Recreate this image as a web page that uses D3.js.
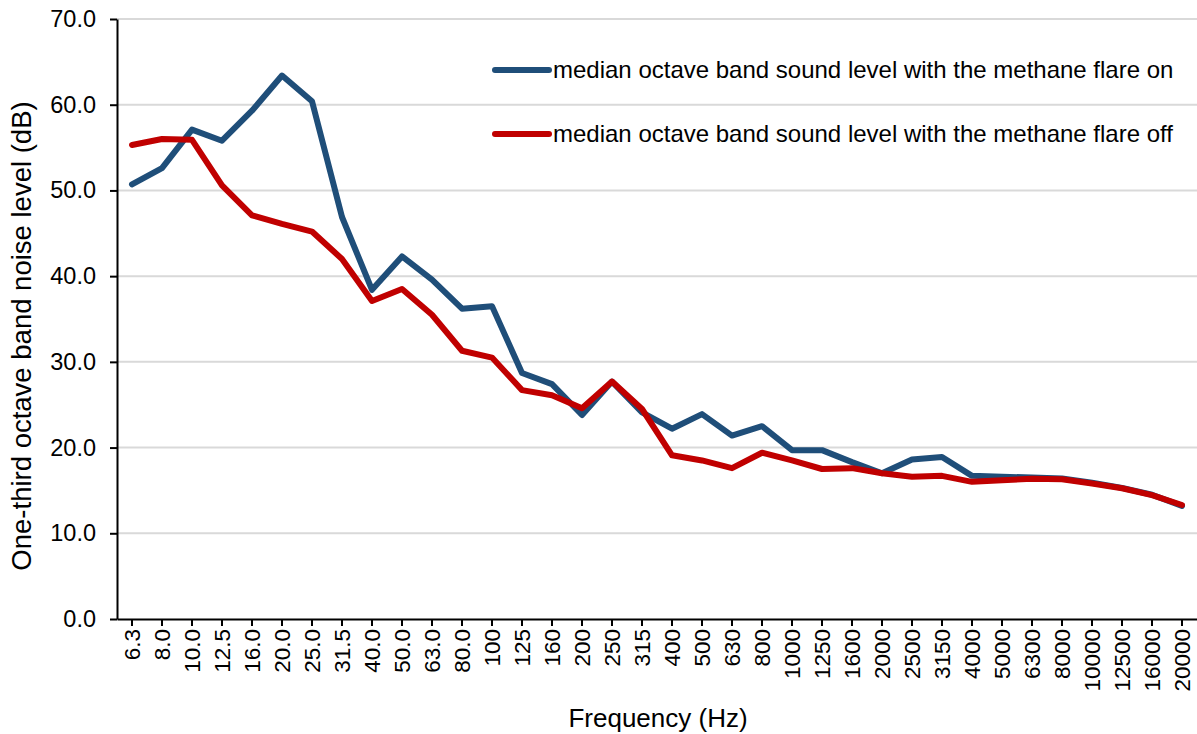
<!DOCTYPE html>
<html>
<head>
<meta charset="utf-8">
<script src="https://cdn.jsdelivr.net/npm/d3@7"></script>
<style>
  body { margin: 0; background: #fff; }
  text { font-family: "Liberation Sans", Arial, sans-serif; fill: #000; }
</style>
</head>
<body>
<svg width="1197" height="734"></svg>
<script>
// one-third octave band centre frequencies
var freqs = ['6.3', '8.0', '10.0', '12.5', '16.0', '20.0', '25.0', '31.5', '40.0', '50.0',
  '63.0', '80.0', '100', '125', '160', '200', '250', '315', '400', '500', '630', '800',
  '1000', '1250', '1600', '2000', '2500', '3150', '4000', '5000', '6300', '8000',
  '10000', '12500', '16000', '20000']

var flareOn = [50.7, 52.6, 57.1, 55.8, 59.3, 63.4, 60.4, 46.9, 38.4, 42.3,
  39.6, 36.2, 36.5, 28.7, 27.4, 23.8, 27.7, 24.1, 22.2, 23.9, 21.4, 22.5,
  19.7, 19.7, 18.3, 17.0, 18.6, 18.9, 16.7, 16.6, 16.5, 16.4,
  15.9, 15.3, 14.5, 13.2]

var flareOff = [55.3, 56.0, 55.9, 50.6, 47.1, 46.1, 45.2, 42.0, 37.1, 38.5,
  35.5, 31.3, 30.5, 26.7, 26.1, 24.6, 27.7, 24.5, 19.1, 18.5, 17.6, 19.4,
  18.5, 17.5, 17.6, 17.0, 16.6, 16.7, 16.0, 16.2, 16.35, 16.3,
  15.8, 15.25, 14.45, 13.3]

var yTicks = [0, 10, 20, 30, 40, 50, 60, 70]

var seriesNames = ['median octave band sound level with the methane flare on',
  'median octave band sound level with the methane flare off']
var colors = ['#1f4e79', '#c00000']

var svg = d3.select('svg')
var plotLeft = 117, plotRight = 1197, plotTop = 19, plotBottom = 619

var x = d3.scaleBand().domain(freqs).range([plotLeft, plotRight]).padding(0)
var y = d3.scaleLinear().domain([0, 70]).range([plotBottom, plotTop])

// gridlines
svg.append('g')
  .selectAll('line')
  .data(yTicks.slice(1))
  .enter()
  .append('line')
  .attr('x1', plotLeft)
  .attr('x2', plotRight)
  .attr('y1', function(d) { return y(d) })
  .attr('y2', function(d) { return y(d) })
  .attr('stroke', '#d9d9d9')
  .attr('stroke-width', 2)

// y axis
var yAxis = svg.append('g')
  .attr('transform', 'translate(' + plotLeft + ',0)')
  .call(d3.axisLeft(y).tickValues(yTicks).tickSize(7).tickSizeOuter(0).tickPadding(14)
    .tickFormat(function(d) { return d.toFixed(1) }))
yAxis.select('.domain').attr('stroke', '#000').attr('stroke-width', 2)
yAxis.selectAll('.tick line').attr('stroke', '#000').attr('stroke-width', 2)
yAxis.selectAll('.tick text').style('font-size', '23.5px')
  .style('font-family', '"Liberation Sans", Arial, sans-serif')

// x axis, ticks on category centres
var xAxis = svg.append('g')
  .attr('transform', 'translate(0,' + plotBottom + ')')
  .call(d3.axisBottom(x).tickSize(7).tickSizeOuter(0))
xAxis.select('.domain').attr('stroke', '#000').attr('stroke-width', 2)
xAxis.selectAll('.tick line').attr('stroke', '#000').attr('stroke-width', 2)
xAxis.selectAll('.tick text')
  .style('font-size', '22.5px')
  .style('font-family', '"Liberation Sans", Arial, sans-serif')
  .attr('transform', 'rotate(-90)')
  .attr('text-anchor', 'end')
  .attr('x', -10)
  .attr('y', 0)
  .attr('dy', '0.35em')

// axis titles
svg.append('text')
  .attr('x', 658)
  .attr('y', 727)
  .attr('text-anchor', 'middle')
  .style('font-size', '26px')
  .text('Frequency (Hz)')

svg.append('text')
  .attr('transform', 'translate(31,336) rotate(-90)')
  .attr('text-anchor', 'middle')
  .style('font-size', '27.5px')
  .text('One-third octave band noise level (dB)')

// lines
var line = d3.line()
  .x(function(d, i) { return x(freqs[i]) + x.bandwidth() / 2 })
  .y(function(d) { return y(d) })

svg.selectAll('path.series')
  .data([flareOn, flareOff])
  .enter()
  .append('path')
  .attr('class', 'series')
  .attr('d', line)
  .attr('fill', 'none')
  .attr('stroke', function(d, i) { return colors[i] })
  .attr('stroke-width', 6)
  .attr('stroke-linejoin', 'round')
  .attr('stroke-linecap', 'round')

// legend
var legend = svg.selectAll('g.legend')
  .data(seriesNames)
  .enter()
  .append('g')
  .attr('class', 'legend')
  .attr('transform', function(d, i) { return 'translate(495,' + (70 + i * 64) + ')' })

legend.append('line')
  .attr('x1', 0)
  .attr('x2', 54)
  .attr('stroke', function(d, i) { return colors[i] })
  .attr('stroke-width', 6)
  .attr('stroke-linecap', 'round')

legend.append('text')
  .attr('x', 58)
  .attr('dy', '0.35em')
  .style('font-size', '24px')
  .text(function(d) { return d })
</script>
</body>
</html>
